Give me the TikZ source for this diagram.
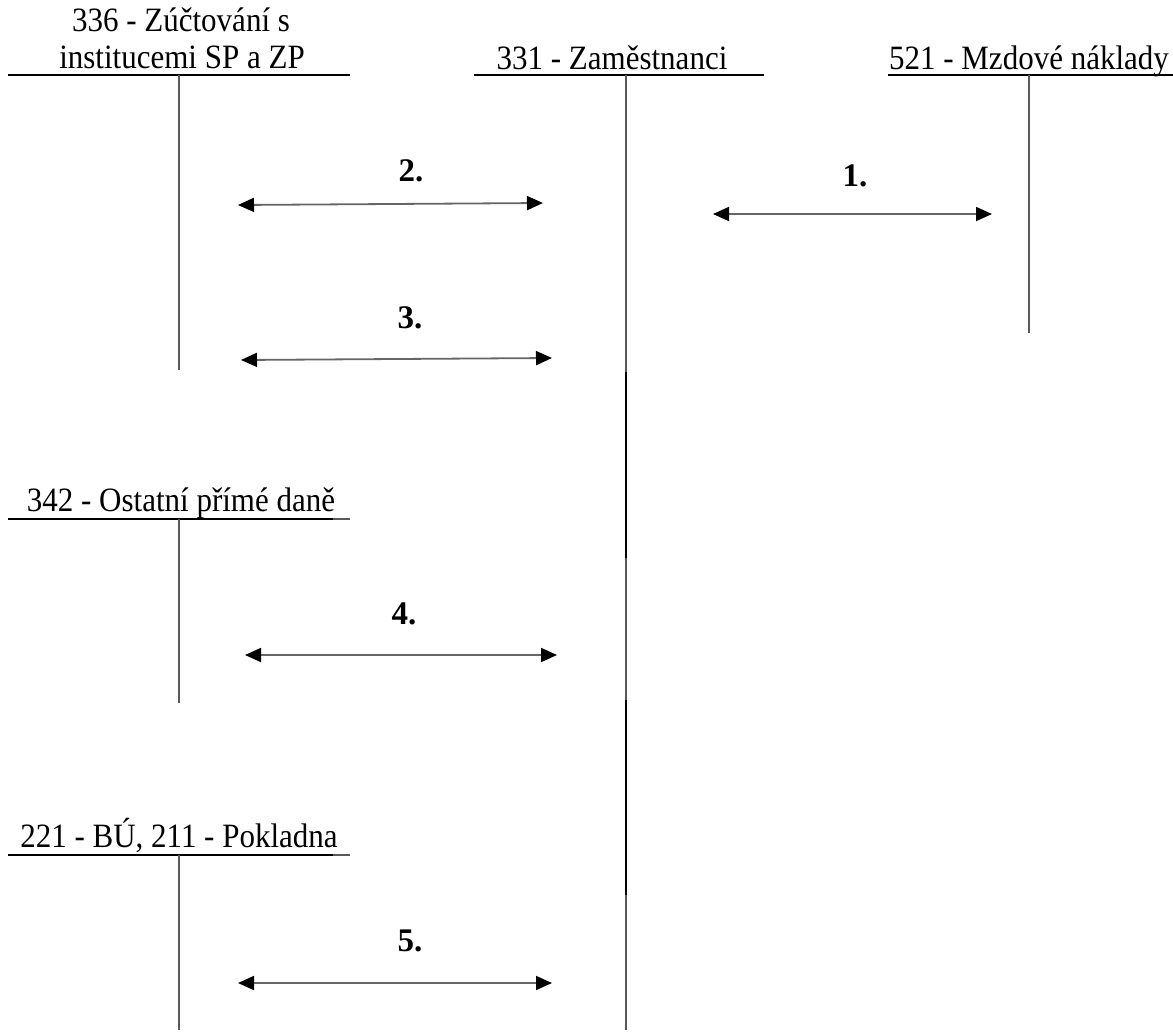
\documentclass[tikz,border=0pt]{standalone}
\usepackage{fontspec}
\setmainfont{Liberation Serif}
\usetikzlibrary{arrows.meta}
\newcommand{\vstretch}[1]{\scalebox{1}[1.1]{#1}}
\begin{document}
\begin{tikzpicture}[x=1pt,y=-1pt,
  hdr/.style={anchor=base,inner sep=0pt,font=\fontsize{31}{36}\selectfont},
  num/.style={inner sep=0pt,font=\fontsize{33}{38}\selectfont\bfseries},
  hline/.style={line width=2pt,black},
  vline/.style={line width=1.3pt,black!65},
  vthick/.style={line width=2.2pt,black},
  dbl/.style={line width=1.8pt,black!60,
    {Triangle[length=16pt,width=14pt,color=black]}-{Triangle[length=16pt,width=14pt,color=black]}}]
\useasboundingbox (0,0) rectangle (1173,1034);
% headers
\node[hdr] (t336a) at (181,31) {\vstretch{336 - Zúčtování s}};
\node[hdr] (t336b) at (182,68) {\vstretch{institucemi SP a ZP}};
\node[hdr] (t331) at (612,69) {\vstretch{331 - Zaměstnanci}};
\node[hdr] (t521) at (1029,69) {\vstretch{521 - Mzdové náklady}};
\node[hdr] (t342) at (181,511) {\vstretch{342 - Ostatní přímé daně}};
\node[hdr] (t221) at (179,847) {\vstretch{221 - BÚ, 211 - Pokladna}};
% T-account coordinates
\coordinate (a336l) at (8,75);   \coordinate (a336r) at (350,75);
\coordinate (a336t) at (179,75); \coordinate (a336b) at (179,370);
\coordinate (a331l) at (474,75); \coordinate (a331r) at (764,75);
\coordinate (a331t) at (626,75); \coordinate (a331b) at (626,1030);
\coordinate (a521l) at (888,75); \coordinate (a521r) at (1173,75);
\coordinate (a521t) at (1029,75); \coordinate (a521b) at (1029,333);
\coordinate (a342l) at (8,519);  \coordinate (a342m) at (333,519); \coordinate (a342r) at (350,519);
\coordinate (a342t) at (179,519); \coordinate (a342b) at (179,703);
\coordinate (a221l) at (8,855);  \coordinate (a221m) at (333,855); \coordinate (a221r) at (350,855);
\coordinate (a221t) at (179,855); \coordinate (a221b) at (179,1030);
% horizontal lines
\draw[hline] (a336l) -- (a336r);
\draw[hline] (a331l) -- (a331r);
\draw[hline] (a521l) -- (a521r);
\draw[hline] (a342l) -- (a342m);
\draw[line width=1.2pt,black!65] (a342m) -- (a342r);
\draw[hline] (a221l) -- (a221m);
\draw[line width=1.2pt,black!65] (a221m) -- (a221r);
% verticals
\draw[vline] (a336t) -- (a336b);
\draw[vline] (a331t) -- (a331b);
\draw[vline] (a521t) -- (a521b);
\draw[vline] (a342t) -- (a342b);
\draw[vline] (a221t) -- (a221b);
\coordinate (s1a) at (626,372); \coordinate (s1b) at (626,558);
\coordinate (s2a) at (626,700); \coordinate (s2b) at (626,895);
\draw[vthick] (s1a) -- (s1b);
\draw[vthick] (s2a) -- (s2b);
% arrows
\node[num] (n1) at (855,176) {1.};
\node[num] (n2) at (411,171) {2.};
\node[num] (n3) at (410,318) {3.};
\node[num] (n4) at (404,614) {4.};
\node[num] (n5) at (410,941) {5.};
\coordinate (p1l) at (713,214); \coordinate (p1r) at (992,214);
\coordinate (p2l) at (238,205); \coordinate (p2r) at (543,203);
\coordinate (p3l) at (241,360); \coordinate (p3r) at (552,358);
\coordinate (p4l) at (245,655); \coordinate (p4r) at (557,655);
\coordinate (p5l) at (238,983); \coordinate (p5r) at (552,983);
\draw[dbl] (p1l) -- (p1r);
\draw[dbl] (p2l) -- (p2r);
\draw[dbl] (p3l) -- (p3r);
\draw[dbl] (p4l) -- (p4r);
\draw[dbl] (p5l) -- (p5r);
\end{tikzpicture}
\end{document}
